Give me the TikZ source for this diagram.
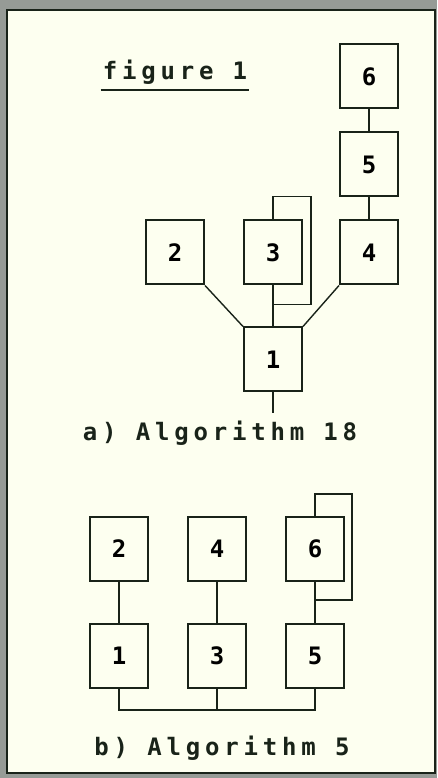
\documentclass[tikz,border=0pt]{standalone}
\usepackage{fontspec}
\newfontfamily\pixfont[LetterSpace=20]{DejaVu Sans Mono Bold}
\usetikzlibrary{positioning, calc}
\definecolor{ink}{RGB}{25, 35, 25}
\definecolor{paper}{RGB}{253, 255, 240}
\definecolor{frame}{RGB}{150, 155, 150}

\begin{document}
\begin{tikzpicture}[x=1pt, y=1pt, font=\pixfont\fontsize{24}{28}\selectfont,
    blk/.style={draw=ink, line width=2pt, minimum width=58pt, minimum height=64pt, inner sep=0pt},
    wire/.style={draw=ink, line width=1.4pt}]
  \fill[frame] (0,0) rectangle (437,778);
  \draw[ink, fill=paper, line width=1.4pt] (7,5) rectangle (435,768);
  \useasboundingbox (0,0) rectangle (437,778);
  % title
  \node[text=ink, inner sep=0pt] (title) at (175,706) {figure 1};
  \draw[wire, line width=2pt] ($(title.south west)+(-2pt,-6pt)$) -- ($(title.south east)+(2pt,-6pt)$);
  % a) algorithm 18
  \node[blk] (a1) at (273,418.5) {1};
  \node[blk, above=41pt of a1] (a3) {3};
  \node[blk, left=38pt of a3] (a2) {2};
  \node[blk, right=36pt of a3] (a4) {4};
  \node[blk, above=22pt of a4] (a5) {5};
  \node[blk, above=22pt of a5] (a6) {6};
  \coordinate[below=21pt of a1] (a-out);
  \draw[wire] (a1) -- (a-out);
  \draw[wire] (a3) -- (a1);
  \draw[wire] (a2.south east) -- (a1.north west);
  \draw[wire] (a4.south west) -- (a1.north east);
  \draw[wire] (a4) -- (a5);
  \draw[wire] (a5) -- (a6);
  \draw[wire] (a3.north) -- ++(0,23) -- ++(38,0) -- ++(0,-108) -- ++(-38,0);
  \node[text=ink, inner sep=0pt] (lbl-a) at (220,345) {a) Algorithm 18};
  % b) algorithm 5
  \node[blk] (b1) at (119,122) {1};
  \node[blk, right=38pt of b1] (b3) {3};
  \node[blk, right=38pt of b3] (b5) {5};
  \node[blk, above=41pt of b1] (b2) {2};
  \node[blk, above=41pt of b3] (b4) {4};
  \node[blk, above=41pt of b5] (b6) {6};
  \draw[wire] (b2) -- (b1);
  \draw[wire] (b4) -- (b3);
  \draw[wire] (b6) -- (b5);
  \draw[wire] (b6.north) -- ++(0,22) -- ++(37,0) -- ++(0,-106) -- ++(-37,0);
  \draw[wire] (b1.south) -- ++(0,-21) -| (b5.south);
  \draw[wire] (b3.south) -- ++(0,-21);
  \node[text=ink, inner sep=0pt] (lbl-b) at (222,30) {b) Algorithm 5};
\end{tikzpicture}
\end{document}
